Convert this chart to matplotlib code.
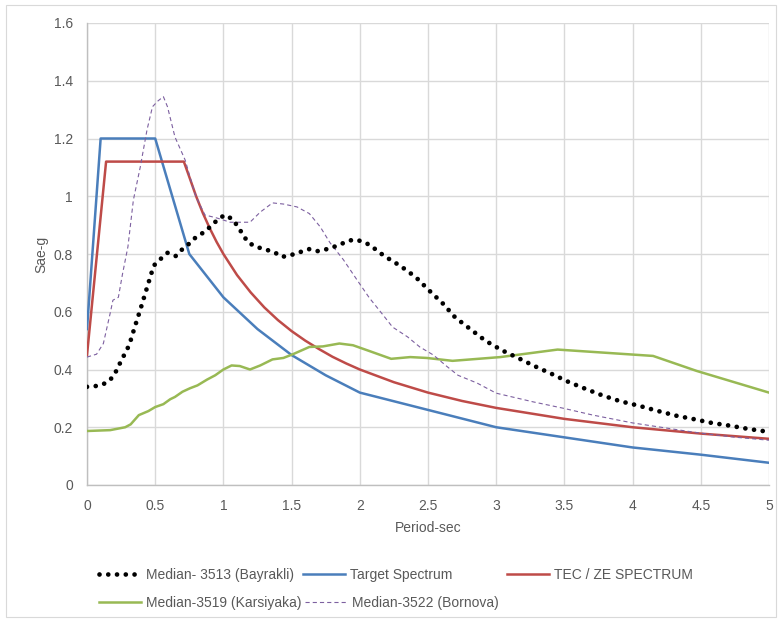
import matplotlib
matplotlib.use("Agg")
import matplotlib.pyplot as plt
from matplotlib.patches import Rectangle

plt.rcParams['font.family'] = ['Liberation Sans Narrow', 'Liberation Sans', 'DejaVu Sans']
plt.rcParams['lines.scale_dashes'] = False

# ---- data ----
bay_t = [0, 0.07, 0.14, 0.19, 0.22, 0.25, 0.28, 0.31, 0.35, 0.39, 0.43, 0.47, 0.49, 0.54, 0.59, 0.65,
         0.70, 0.755, 0.80, 0.86, 0.91, 0.96, 1.01, 1.07, 1.14, 1.18, 1.24, 1.37, 1.43, 1.50, 1.63,
         1.69, 1.76, 1.83, 1.89, 1.95, 2.01, 2.08, 2.13, 2.19, 2.30, 2.41, 2.51, 2.61, 2.70, 2.81,
         2.92, 3.04, 3.16, 3.28, 3.41, 3.53, 3.66, 3.78, 3.91, 4.05, 4.18, 4.32, 4.45, 4.58, 4.72,
         4.85, 5.0]
bay_v = [0.34, 0.343, 0.353, 0.374, 0.40, 0.43, 0.457, 0.485, 0.547, 0.606, 0.668, 0.73, 0.76, 0.783,
         0.804, 0.793, 0.817, 0.838, 0.859, 0.876, 0.897, 0.92, 0.935, 0.92, 0.87, 0.84, 0.825, 0.807,
         0.79, 0.797, 0.817, 0.81, 0.817, 0.828, 0.84, 0.85, 0.845, 0.83, 0.81, 0.79, 0.758, 0.72,
         0.673, 0.628, 0.58, 0.54, 0.50, 0.467, 0.44, 0.412, 0.384, 0.357, 0.332, 0.31, 0.29, 0.274,
         0.257, 0.24, 0.228, 0.215, 0.205, 0.194, 0.184]

tgt_t = [0, 0.1, 0.5, 0.75, 1.0, 1.25, 1.5, 1.75, 2.0, 2.5, 3.0, 3.5, 4.0, 4.5, 5.0]
tgt_v = [0.54, 1.2, 1.2, 0.80, 0.65, 0.54, 0.45, 0.38, 0.32, 0.26, 0.20, 0.165, 0.13, 0.105, 0.077]

tec_t = [0, 0.14, 0.71, 0.75, 0.8, 0.85, 0.9, 0.95, 1.0, 1.1, 1.2, 1.3, 1.4, 1.5, 1.6, 1.7, 1.8, 1.9,
         2.0, 2.25, 2.5, 2.75, 3.0, 3.5, 4.0, 4.5, 5.0]
tec_v = [0.45, 1.12, 1.12, 1.067, 1.0, 0.941, 0.889, 0.842, 0.80, 0.727, 0.667, 0.615, 0.571, 0.533,
         0.50, 0.471, 0.444, 0.421, 0.40, 0.356, 0.32, 0.291, 0.267, 0.229, 0.20, 0.178, 0.16]

kar_t = [0, 0.17, 0.28, 0.32, 0.38, 0.45, 0.50, 0.56, 0.61, 0.645, 0.70, 0.755, 0.81, 0.88, 0.94,
         1.00, 1.06, 1.12, 1.195, 1.27, 1.36, 1.44, 1.51, 1.63, 1.73, 1.85, 1.95, 2.07, 2.23, 2.37,
         2.49, 2.68, 3.03, 3.45, 4.15, 4.47, 5.0]
kar_v = [0.187, 0.19, 0.20, 0.21, 0.242, 0.256, 0.27, 0.28, 0.297, 0.305, 0.323, 0.335, 0.345, 0.365,
         0.38, 0.40, 0.414, 0.412, 0.40, 0.414, 0.435, 0.44, 0.453, 0.478, 0.48, 0.49, 0.484, 0.464,
         0.437, 0.443, 0.44, 0.43, 0.443, 0.469, 0.447, 0.395, 0.32]

bor_t = [0, 0.07, 0.12, 0.17, 0.19, 0.23, 0.26, 0.30, 0.34, 0.39, 0.44, 0.48, 0.52, 0.56, 0.59, 0.645,
         0.72, 0.755, 0.80, 0.865, 0.95, 1.05, 1.195, 1.27, 1.36, 1.44, 1.54, 1.63, 1.71, 1.78, 1.88,
         1.98, 2.07, 2.16, 2.24, 2.35, 2.44, 2.54, 2.64, 2.72, 2.86, 3.0, 3.27, 3.49, 3.71, 4.0, 4.25,
         4.49, 4.74, 5.0]
bor_v = [0.443, 0.453, 0.49, 0.595, 0.64, 0.65, 0.73, 0.825, 0.987, 1.10, 1.23, 1.31, 1.33, 1.345,
         1.31, 1.205, 1.125, 1.067, 0.997, 0.935, 0.925, 0.91, 0.91, 0.945, 0.977, 0.973, 0.963, 0.94,
         0.894, 0.84, 0.78, 0.71, 0.648, 0.595, 0.547, 0.513, 0.478, 0.45, 0.41, 0.38, 0.353, 0.318,
         0.288, 0.266, 0.242, 0.215, 0.197, 0.18, 0.166, 0.155]

labels = ["Median- 3513 (Bayrakli)", "Target Spectrum", "TEC / ZE SPECTRUM",
          "Median-3519 (Karsiyaka)", "Median-3522 (Bornova)"]

xticks = [0, 0.5, 1, 1.5, 2, 2.5, 3, 3.5, 4, 4.5, 5]
xticklabels = ["0", "0.5", "1", "1.5", "2", "2.5", "3", "3.5", "4", "4.5", "5"]
yticks = [0, 0.2, 0.4, 0.6, 0.8, 1.0, 1.2, 1.4, 1.6]
yticklabels = ["0", "0.2", "0.4", "0.6", "0.8", "1", "1.2", "1.4", "1.6"]

# ---- figure ----
W, H = 780, 621
fig = plt.figure(figsize=(W / 100, H / 100), dpi=100)
ax = fig.add_axes([87 / W, 1 - 485 / H, (769 - 87) / W, (485 - 23) / H])

fig.patches.append(Rectangle((6 / W, 4 / H), (776 - 6) / W, (616 - 4) / H, transform=fig.transFigure,
                             fill=False, edgecolor='#d9d9d9', linewidth=0.8))

grid_c = '#d9d9d9'
tick_c = '#595959'

l_tgt, = ax.plot(tgt_t, tgt_v, color='#4a7ebb', lw=1.8, solid_joinstyle='round', zorder=3)
l_tec, = ax.plot(tec_t, tec_v, color='#be4b48', lw=1.8, solid_joinstyle='round', zorder=3)
l_kar, = ax.plot(kar_t, kar_v, color='#98b954', lw=1.8, solid_joinstyle='round', zorder=3)
l_bor, = ax.plot(bor_t, bor_v, color='#7d60a0', lw=0.8, linestyle=(0, (3.0, 2.2)), zorder=3)
l_bay, = ax.plot(bay_t, bay_v, color='black', lw=3.4, linestyle=(0, (0.01, 6.3)),
                 dash_capstyle='round', zorder=4)

ax.set_xlim(0, 5)
ax.set_ylim(0, 1.6)
ax.set_xticks(xticks)
ax.set_xticklabels(xticklabels)
ax.set_yticks(yticks)
ax.set_yticklabels(yticklabels)
ax.grid(True, color=grid_c, lw=1.0)
ax.set_axisbelow(True)
for s in ['top', 'right']:
    ax.spines[s].set_visible(False)
for s in ['left', 'bottom']:
    ax.spines[s].set_color('#bfbfbf')
    ax.spines[s].set_linewidth(1.0)
ax.tick_params(axis='both', length=0, colors=tick_c, labelsize=10)
ax.tick_params(axis='x', pad=10)
ax.tick_params(axis='y', pad=10)
ax.set_xlabel("Period-sec", fontsize=10, color=tick_c, labelpad=6)
ax.set_ylabel("Sae-g", fontsize=10, color=tick_c, labelpad=4)

# legend entries placed individually (Excel flow layout)
fs = 10
fs_px = fs * 100 / 72
entries = [(l_bay, labels[0], 99, 575), (l_tgt, labels[1], 303, 575), (l_tec, labels[2], 507, 575),
           (l_kar, labels[3], 99, 603), (l_bor, labels[4], 305, 603)]
for h, lab, xp, yp in entries:
    leg = fig.legend([h], [lab], loc='center left', bbox_to_anchor=(xp / W, 1 - yp / H),
                     frameon=False, fontsize=fs, borderpad=0, borderaxespad=0,
                     handlelength=42 / fs_px, handletextpad=5 / fs_px)
    for t in leg.get_texts():
        t.set_color(tick_c)

fig.savefig("out.png", dpi=100)
